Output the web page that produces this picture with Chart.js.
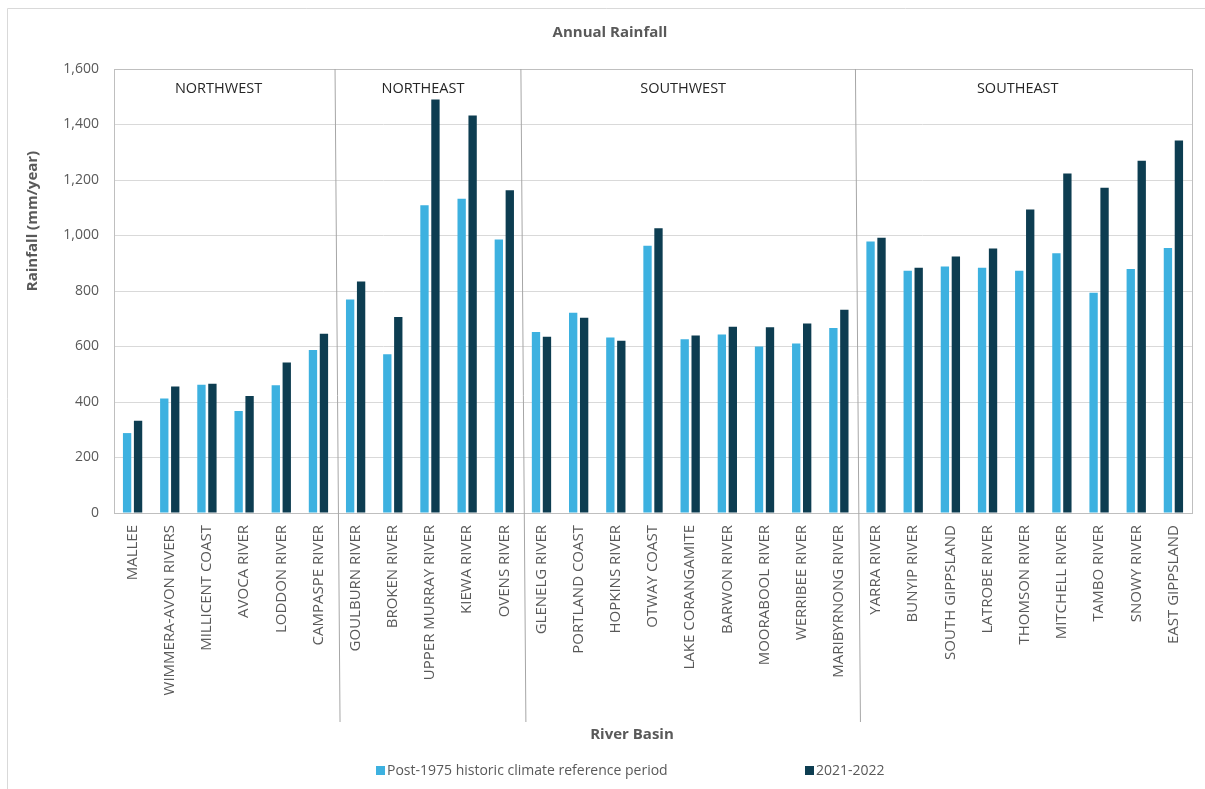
<!DOCTYPE html>
<html>
<head>
<meta charset="utf-8">
<title>Annual Rainfall</title>
<script src="https://cdn.jsdelivr.net/npm/chart.js@4.4.1/dist/chart.umd.min.js"></script>
<style>
  html, body { margin: 0; padding: 0; background: #ffffff; }
  #wrap { position: relative; width: 1205px; height: 789px; }
</style>
</head>
<body>
<div id="wrap"><canvas id="chart" width="1205" height="789"></canvas></div>
<script>
// River basins, in display order
const basins = [
  'MALLEE', 'WIMMERA-AVON RIVERS', 'MILLICENT COAST', 'AVOCA RIVER', 'LODDON RIVER', 'CAMPASPE RIVER',
  'GOULBURN RIVER', 'BROKEN RIVER', 'UPPER MURRAY RIVER', 'KIEWA RIVER', 'OVENS RIVER',
  'GLENELG RIVER', 'PORTLAND COAST', 'HOPKINS RIVER', 'OTWAY COAST', 'LAKE CORANGAMITE',
  'BARWON RIVER', 'MOORABOOL RIVER', 'WERRIBEE RIVER', 'MARIBYRNONG RIVER',
  'YARRA RIVER', 'BUNYIP RIVER', 'SOUTH GIPPSLAND', 'LATROBE RIVER', 'THOMSON RIVER',
  'MITCHELL RIVER', 'TAMBO RIVER', 'SNOWY RIVER', 'EAST GIPPSLAND'
];

// Regions and how many basins each one spans
const regions = ['NORTHWEST', 'NORTHEAST', 'SOUTHWEST', 'SOUTHEAST'];
const regionSizes = [6, 5, 9, 9];

// Annual rainfall, mm/year
const post1975 = [
  288, 413, 462, 368, 460, 587,
  769, 572, 1109, 1132, 986,
  652, 722, 632, 963, 626, 643, 600, 611, 667,
  978, 873, 888, 884, 873, 936, 794, 879, 955
];
const year2021_22 = [
  332, 456, 466, 422, 542, 646,
  834, 706, 1490, 1432, 1163,
  635, 704, 621, 1026, 640, 671, 669, 683, 732,
  992, 884, 924, 953, 1094, 1223, 1172, 1269, 1342
];

const seriesLabels = ['Post-1975 historic climate reference period', '2021-2022'];
const seriesColors = ['#3DB1E0', '#0D3D51'];

const FONT = '"Open Sans", "Liberation Sans", sans-serif';
const TEXT = '#595959';

// Frame, region dividers, region names, titles and the legend
const decorations = {
  id: 'decorations',
  afterDraw(chart) {
    const ctx = chart.ctx;
    const area = chart.chartArea;
    const x = chart.scales.x;
    ctx.save();

    // outer chart frame (top and left edges)
    ctx.strokeStyle = '#D9D9D9';
    ctx.lineWidth = 1;
    ctx.beginPath();
    ctx.moveTo(7.5, 789);
    ctx.lineTo(7.5, 8.5);
    ctx.lineTo(1205, 8.5);
    ctx.stroke();

    // plot area border
    ctx.strokeStyle = '#BFBFBF';
    ctx.strokeRect(Math.round(area.left) + 0.5, Math.round(area.top) + 0.5,
                   Math.round(area.right - area.left), Math.round(area.bottom - area.top));

    // region dividers and region names
    let start = 0;
    const bounds = [area.left];
    regionSizes.forEach((n) => {
      const end = start + n;
      if (end < basins.length) {
        const bx = (x.getPixelForTick(end - 1) + x.getPixelForTick(end)) / 2;
        bounds.push(bx);
        ctx.strokeStyle = '#A6A6A6';
        ctx.beginPath();
        ctx.moveTo(bx - 2, area.top);
        ctx.lineTo(bx + 3, 722);
        ctx.stroke();
      }
      start = end;
    });
    bounds.push(area.right);
    ctx.fillStyle = '#262626';
    ctx.font = '14.5px ' + FONT;
    ctx.textAlign = 'center';
    ctx.textBaseline = 'middle';
    regions.forEach((r, i) => {
      ctx.fillText(r, (bounds[i] + bounds[i + 1]) / 2 - 7, 89);
    });

    // chart title
    ctx.fillStyle = TEXT;
    ctx.font = 'bold 15px ' + FONT;
    ctx.fillText('Annual Rainfall', 610, 33);

    // axis titles
    ctx.fillText('River Basin', 632, 735);
    ctx.save();
    ctx.translate(33, 221);
    ctx.rotate(-Math.PI / 2);
    ctx.fillText('Rainfall (mm/year)', 0, 0);
    ctx.restore();

    // legend
    ctx.font = '14px ' + FONT;
    ctx.textAlign = 'left';
    const legendX = [376, 805];
    chart.data.datasets.forEach((ds, i) => {
      ctx.fillStyle = ds.backgroundColor;
      ctx.fillRect(legendX[i], 766, 9, 9);
      ctx.fillStyle = TEXT;
      ctx.fillText(ds.label, legendX[i] + 11, 771);
    });

    ctx.restore();
  }
};

new Chart(document.getElementById('chart'), {
  type: 'bar',
  data: {
    labels: basins,
    datasets: [
      { label: seriesLabels[0], data: post1975, backgroundColor: seriesColors[0],
        categoryPercentage: 0.59, barPercentage: 0.76 },
      { label: seriesLabels[1], data: year2021_22, backgroundColor: seriesColors[1],
        categoryPercentage: 0.59, barPercentage: 0.76 }
    ]
  },
  plugins: [decorations],
  options: {
    responsive: false,
    animation: false,
    devicePixelRatio: 1,
    layout: { padding: { left: 0, top: 69, right: 13, bottom: 0 } },
    plugins: {
      legend: { display: false },
      title: { display: false },
      tooltip: { enabled: false }
    },
    scales: {
      x: {
        afterFit(scale) { scale.height = 276; },
        grid: { display: false, drawTicks: false },
        border: { display: false },
        ticks: {
          autoSkip: false,
          maxRotation: 90,
          minRotation: 90,
          padding: 12,
          color: TEXT,
          font: { family: FONT, size: 15 }
        }
      },
      y: {
        min: 0,
        max: 1600,
        afterFit(scale) { scale.width = 114; },
        grid: { color: '#D9D9D9', drawTicks: false },
        border: { display: false },
        ticks: {
          stepSize: 200,
          padding: 15,
          color: TEXT,
          font: { family: FONT, size: 14 },
          callback: v => v.toLocaleString('en-US')
        }
      }
    }
  }
});
</script>
</body>
</html>
